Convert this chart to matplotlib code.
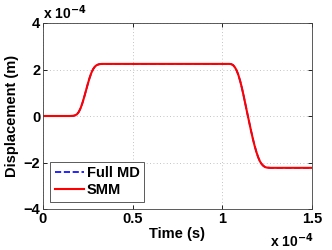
import numpy as np
import matplotlib
matplotlib.use("Agg")
import matplotlib.pyplot as plt

# time in units of 1e-4 s, displacement in units of 1e-4 m
t = [0.00, 0.15, 0.17, 0.18, 0.19, 0.20, 0.21, 0.22, 0.23, 0.24, 0.25, 0.26, 0.27,
     0.28, 0.29, 0.30, 0.31, 0.32, 0.33, 0.35, 0.40,
     1.00, 1.04, 1.05, 1.06, 1.07, 1.08, 1.09, 1.10, 1.11, 1.12, 1.13, 1.14, 1.15,
     1.16, 1.17, 1.18, 1.19, 1.20, 1.21, 1.22, 1.23, 1.24, 1.25, 1.27, 1.50]
full_md = [0.00, 0.00, 0.01, 0.03, 0.08, 0.18, 0.34, 0.56, 0.82, 1.10, 1.38, 1.64, 1.86,
           2.02, 2.13, 2.19, 2.22, 2.235, 2.24, 2.24, 2.24,
           2.24, 2.24, 2.23, 2.19, 2.10, 1.96, 1.76, 1.50, 1.19, 0.84, 0.47, 0.10, -0.26,
           -0.62, -0.96, -1.27, -1.54, -1.77, -1.95, -2.07, -2.15, -2.20, -2.22, -2.23, -2.23]
smm = list(full_md)

xticks = [0, 0.5, 1, 1.5]
yticks = [-4, -2, 0, 2, 4]

plt.rcParams['font.family'] = ['Liberation Sans', 'DejaVu Sans']
plt.rcParams['font.weight'] = 'bold'
plt.rcParams['mathtext.default'] = 'bf'

fig = plt.figure(figsize=(3.32, 2.5), dpi=100)
ax = fig.add_axes([0.1295, 0.164, 0.81, 0.744])

ax.plot(t, full_md, color="blue", linestyle="--", linewidth=1.2, label="Full MD")
ax.plot(t, smm, color="red", linewidth=1.5, label="SMM")

ax.set_xlim(0, 1.5)
ax.set_ylim(-4, 4)
ax.set_xticks(xticks)
ax.set_xticklabels(["0", "0.5", "1", "1.5"])
ax.set_yticks(yticks)
ax.set_yticklabels(["\u22124", "\u22122", "0", "2", "4"])
ax.tick_params(direction="in", length=3, width=0.6, labelsize=10.5, top=True, right=True, pad=2)
ax.grid(True, linestyle=(0, (1, 3)), color="#b0b0b0", linewidth=0.6)
for s in ax.spines.values():
    s.set_linewidth(0.6)
    s.set_color("#404040")

ax.set_xlabel("Time (s)", fontsize=10.5, fontweight="bold", labelpad=1)
ax.set_ylabel("Displacement (m)", fontsize=10.5, fontweight="bold", labelpad=3)

fig.text(0.1295, 0.922, "x 10$^{-4}$", fontsize=10, fontweight="bold", va="baseline", ha="left")
fig.text(0.812, 0.012, "x 10$^{-4}$", fontsize=10, fontweight="bold", va="baseline", ha="left")

leg = ax.legend(loc="lower left", fontsize=10.5, handlelength=2.0, handletextpad=0.2,
                borderpad=0.3, labelspacing=0.2, fancybox=False, framealpha=1,
                borderaxespad=0.5)
leg.get_frame().set_edgecolor("#404040")
leg.get_frame().set_linewidth(0.6)

fig.savefig("out.png", dpi=100)
